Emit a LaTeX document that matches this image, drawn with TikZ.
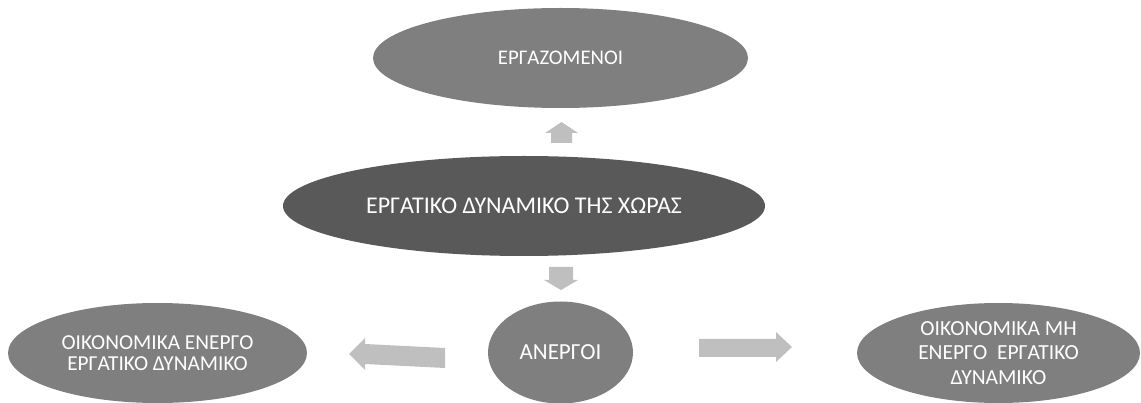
\documentclass[tikz,border=0pt]{standalone}
\usepackage{fontspec}
\setmainfont{Carlito}
\usetikzlibrary{shapes.geometric}
\definecolor{midgray}{HTML}{7F7F7F}
\definecolor{darkgray}{HTML}{595959}
\definecolor{arrowgray}{HTML}{BFBFBF}
\begin{document}
\begin{tikzpicture}[x=1pt,y=-1pt,
  oval/.style={ellipse, fill=midgray, draw=none, text=white, align=center, inner sep=0pt},
  blockarrow/.style={fill=arrowgray, draw=none}]
\useasboundingbox (0,0) rectangle (1141,403);
% ellipses
\node[oval, minimum width=375pt, minimum height=100pt, font=\fontsize{20.8}{25}\selectfont] (emp) at (560.5,58) {ΕΡΓΑΖΟΜΕΝΟΙ};
\node[oval, fill=darkgray, minimum width=482pt, minimum height=100pt, font=\fontsize{24}{28}\selectfont] (main) at (524,206) {ΕΡΓΑΤΙΚΟ ΔΥΝΑΜΙΚΟ ΤΗΣ ΧΩΡΑΣ};
\node[oval, minimum width=145pt, minimum height=102pt, font=\fontsize{23}{27}\selectfont] (unemp) at (560.5,352.5) {ΑΝΕΡΓΟΙ};
\node[oval, minimum width=299pt, minimum height=100pt, font=\fontsize{21.3}{21}\selectfont] (active) at (157.5,353) {ΟΙΚΟΝΟΜΙΚΑ ΕΝΕΡΓΟ\\ΕΡΓΑΤΙΚΟ ΔΥΝΑΜΙΚΟ};
\node[oval, minimum width=283pt, minimum height=100pt, font=\fontsize{21.5}{24.5}\selectfont] (inactive) at (998.5,353) {ΟΙΚΟΝΟΜΙΚΑ ΜΗ\\ΕΝΕΡΓΟ\ \ ΕΡΓΑΤΙΚΟ\\ΔΥΝΑΜΙΚΟ};
% block arrows
\coordinate (up) at (561.5,122);
\fill[blockarrow] (up) -- ++(16.5,11) -- ++(-6,0) -- ++(0,10) -- ++(-21,0) -- ++(0,-10) -- ++(-6,0) -- cycle;
\coordinate (down) at (561,290);
\fill[blockarrow] (down) -- ++(17,-10) -- ++(-5,0) -- ++(0,-13) -- ++(-24,0) -- ++(0,13) -- ++(-5,0) -- cycle;
\coordinate (left) at (349,354);
\fill[blockarrow] (left) -- (365,338) -- (365,344) -- (445,348) -- (445,368) -- (365,364) -- (365,370) -- cycle;
\coordinate (right) at (792,347);
\fill[blockarrow] (right) -- (776,332) -- (776,339) -- (699,339) -- (699,357) -- (776,357) -- (776,362) -- cycle;
\end{tikzpicture}
\end{document}
